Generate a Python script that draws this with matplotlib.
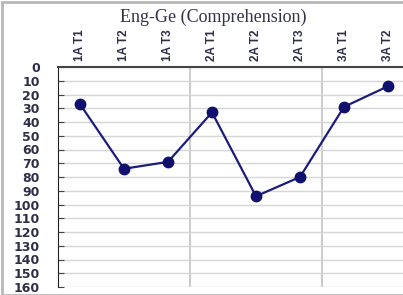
import matplotlib
matplotlib.use("Agg")
import matplotlib.pyplot as plt
from matplotlib.patches import Rectangle

# data
categories = ["1A T1", "1A T2", "1A T3", "2A T1", "2A T2", "2A T3", "3A T1", "3A T2"]
scores = [27, 74, 69, 33, 94, 80, 29, 14]
y_ticks = list(range(0, 161, 10))
group_breaks = [2.5, 5.5]

fig = plt.figure(figsize=(4.03, 2.95), dpi=100)
fig.patches.append(Rectangle((0.004, 0.0), 1.2, 0.992, transform=fig.transFigure,
                             fill=False, edgecolor="#b8b8b8", linewidth=2.0))

# plot area runs past the right edge of the picture (cropped chart)
ax = fig.add_axes([58 / 403, 1 - 287 / 295, 396 / 403, 220 / 295])
ax.plot(range(len(categories)), scores, color="#1c1c7a", linewidth=1.6,
        marker="o", markersize=7.5, markerfacecolor="#10106e", markeredgecolor="#10106e")

ax.set_xlim(-0.5, 8.5)
ax.set_ylim(160, 0)
ax.set_yticks(y_ticks)
ax.set_yticklabels([str(t) for t in y_ticks], fontsize=9, fontweight="bold",
                   color="#2e2e48", family="DejaVu Sans")
ax.tick_params(axis="y", direction="in", length=4, pad=13, color="#444444")

ax.xaxis.tick_top()
ax.set_xticks(range(len(categories)))
ax.set_xticklabels(categories, rotation=90, fontsize=8.5, fontweight="bold",
                   color="#2e2e48", family="Liberation Sans")
ax.tick_params(axis="x", length=0, pad=4)

ax.grid(axis="y", color="#d6d6d6", linewidth=1.0)
for xb in group_breaks:
    ax.axvline(xb, color="#c4c4c4", linewidth=1.2, zorder=0)
ax.set_axisbelow(True)

for side in ["right", "bottom"]:
    ax.spines[side].set_visible(False)
ax.spines["left"].set_color("#222222")
ax.spines["top"].set_color("#444444")
ax.spines["top"].set_linewidth(1.5)

fig.text(213 / 403, 1 - 17 / 295, "Eng-Ge (Comprehension)", ha="center", va="center",
         fontsize=13, family="Liberation Serif", color="#33334a")

fig.savefig("out.png", dpi=100)
